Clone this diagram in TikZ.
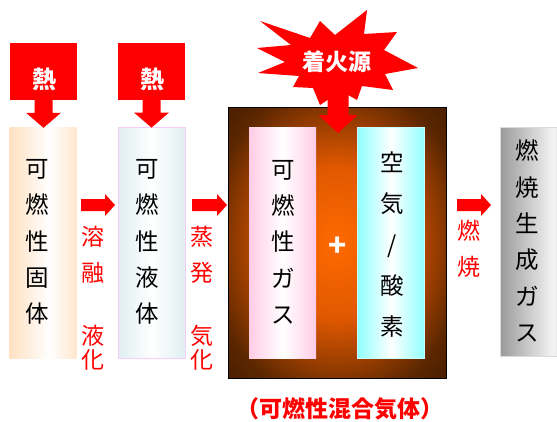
\documentclass[tikz,border=0pt]{standalone}
\usepackage{fontspec}
\newfontfamily\jp{Noto Sans CJK JP}
\usetikzlibrary{calc}
\definecolor{peach}{HTML}{FFC68E}
\definecolor{icy}{HTML}{BFDFE2}
\definecolor{pinkg}{HTML}{FF99CC}
\definecolor{cyang}{HTML}{22FFFF}
\definecolor{gdark}{HTML}{6A6A6A}
\definecolor{gmid}{HTML}{8A8A8A}
\definecolor{glight}{HTML}{F4F4F4}
\definecolor{brn}{HTML}{361600}
\definecolor{brn2}{HTML}{5A2600}
\definecolor{org}{HTML}{FF6A00}
\definecolor{org2}{HTML}{E05800}
\pgfdeclarehorizontalshading{solidsh}{100bp}{color(0bp)=(peach); color(55bp)=(white); color(100bp)=(peach)}
\pgfdeclarehorizontalshading{liqsh}{100bp}{color(0bp)=(icy); color(50bp)=(white); color(100bp)=(icy)}
\pgfdeclarehorizontalshading{gassh}{100bp}{color(0bp)=(pinkg); color(50bp)=(white); color(100bp)=(pinkg)}
\pgfdeclarehorizontalshading{airsh}{100bp}{color(0bp)=(cyang); color(50bp)=(white); color(100bp)=(cyang)}
\pgfdeclarehorizontalshading{graysh}{100bp}{color(0bp)=(gdark); color(72bp)=(glight); color(100bp)=(gmid)}
\pgfdeclareradialshading{glowsh}{\pgfpoint{0bp}{0bp}}{color(0bp)=(org); color(14bp)=(org2); color(30bp)=(brn2); color(42bp)=(brn); color(50bp)=(brn)}
\tikzset{
  col/.style={minimum width=67pt, minimum height=231pt, inner sep=0pt},
  vtext/.style={align=center, inner sep=0pt, font=\jp\fontsize{23.5}{36.3}\selectfont},
  rlabel/.style={align=center, inner sep=0pt, text=red, font=\jp\fontsize{23}{36}\selectfont},
  wtext/.style={inner sep=0pt, text=white, font=\jp\bfseries\fontsize{23}{24}\selectfont},
  redfill/.style={fill=red, draw=none}
}
\newcommand\harrowd[2]{% horizontal block arrow from #1 to #2
  \fill[red] let \p1=(#1), \p2=(#2) in
    (\x1,\y1+6pt) -- (\x2-10pt,\y1+6pt) -- (\x2-10pt,\y1+11pt) -- (\x2,\y1)
    -- (\x2-10pt,\y1-11pt) -- (\x2-10pt,\y1-6pt) -- (\x1,\y1-6pt) -- cycle;}
\newcommand\varrowd[5]{% vertical block arrow from #1 to #2, half shaft #3, half head #4, head len #5
  \fill[red] let \p1=(#1), \p2=(#2) in
    (\x1-#3,\y1) -- (\x1+#3,\y1) -- (\x1+#3,\y2+#5) -- (\x1+#4,\y2+#5) -- (\x1,\y2)
    -- (\x1-#4,\y2+#5) -- (\x1-#3,\y2+#5) -- cycle;}
\begin{document}
\begin{tikzpicture}[x=1pt,y=-1pt]
\useasboundingbox (0,0) rectangle (557,421);
% mixture frame
\node[minimum width=218pt, minimum height=271pt, inner sep=0pt, shading=glowsh, draw=black, line width=0.8pt] (frame) at (337,242.5) {};
% columns
\node[col, shading=solidsh] (solid) at (43,242.5) {};
\node[col, shading=liqsh, draw={rgb,255:red,248;green,204;blue,248}, line width=0.8pt] (liquid) at (152,242.5) {};
\node[col, shading=gassh] (gas) at (282.5,242.5) {};
\node[col, shading=airsh, draw={rgb,255:red,200;green,255;blue,255}, line width=0.8pt] (air) at (391,242.5) {};
\node[minimum width=57pt, minimum height=229pt, inner sep=0pt, shading=graysh, draw={rgb,255:red,220;green,220;blue,220}, line width=0.6pt] (prod) at (528.5,241.5) {};
% column texts
\node[vtext] (tsolid) at (37,242) {可\\燃\\性\\固\\体};
\node[vtext] (tliquid) at (147,242) {可\\燃\\性\\液\\体};
\node[vtext] (tgas) at (283,242) {可\\燃\\性\\ガ\\ス};
\node[vtext, font=\jp\fontsize{23.5}{41}\selectfont] (tair) at (392,245) {空\\気\\/\\酸\\素};
\node[vtext] (tprod) at (527,241) {燃\\焼\\生\\成\\ガ\\ス};
\node[inner sep=0pt, text=white, font=\jp\bfseries\fontsize{30}{32}\selectfont] (plus) at (338,247) {+};
% heat boxes
\node[minimum width=67pt, minimum height=57pt, inner sep=0pt, fill=red] (heat1) at (43.5,71.5) {};
\node[minimum width=67pt, minimum height=57pt, inner sep=0pt, fill=red] (heat2) at (151.5,71.5) {};
\node[wtext, font=\jp\bfseries\fontsize{24}{26}\selectfont] (h1t) at (44,79) {熱};
\node[wtext, font=\jp\bfseries\fontsize{24}{26}\selectfont] (h2t) at (152,79) {熱};
\coordinate (h1tip) at ($(solid.north)+(0,1)$);
\coordinate (h2tip) at ($(liquid.north)+(0,1)$);
\varrowd{heat1.south}{h1tip}{9pt}{17.5pt}{15pt}
\varrowd{heat2.south}{h2tip}{9pt}{17.5pt}{15pt}
% ignition star
\coordinate (sbase) at (338,90);
\coordinate (stip) at (338,133);
\varrowd{sbase}{stip}{10.5pt}{19.5pt}{18pt}
\fill[red] (260,21) -- (310,38) -- (320,21) -- (335,35) -- (367,10) -- (364,34) -- (397,32)
  -- (384,50) -- (418,68) -- (385,74) -- (393,90) -- (362,86) -- (357,100) -- (341,91)
  -- (320,105) -- (313,88) -- (293,87) -- (299,76) -- (258,73) -- (285,62) -- (257,48)
  -- (291,45) -- cycle;
\node[wtext] (ign) at (337,62) {着火源};
% horizontal arrows
\coordinate (a1s) at (81,205); \coordinate (a1e) at (115,205);
\coordinate (a2s) at (192,205); \coordinate (a2e) at (227,205);
\coordinate (a3s) at (457,205); \coordinate (a3e) at (491,205);
\harrowd{a1s}{a1e}
\harrowd{a2s}{a2e}
\harrowd{a3s}{a3e}
% red labels
\node[rlabel] (l1) at (93,255) {溶\\融};
\node[rlabel, font=\jp\fontsize{23}{24}\selectfont] (l2) at (93,348) {液\\化};
\node[rlabel] (l3) at (202,255) {蒸\\発};
\node[rlabel, font=\jp\fontsize{23}{24}\selectfont] (l4) at (202,348) {気\\化};
\node[rlabel] (l5) at (469,249) {燃\\焼};
\node[inner sep=0pt, text=red, font=\jp\bfseries\fontsize{23}{24}\selectfont] (mix) at (340,409) {（可燃性混合気体）};
\end{tikzpicture}
\end{document}
